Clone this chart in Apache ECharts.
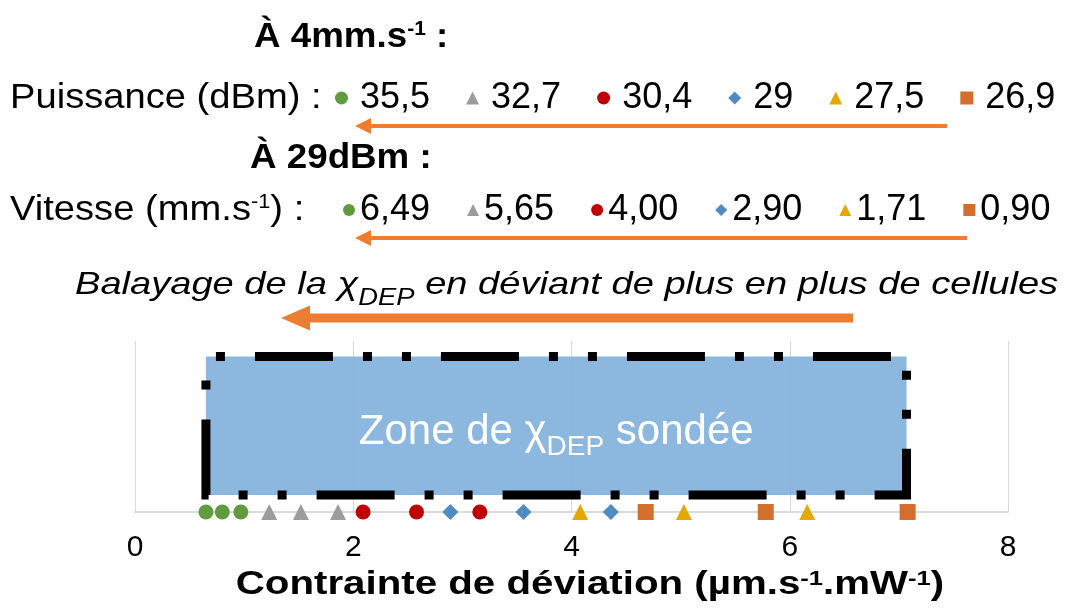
<!DOCTYPE html>
<html>
<head>
<meta charset="utf-8">
<script src="https://cdn.jsdelivr.net/npm/echarts@6/dist/echarts.min.js"></script>
<style>
  html, body { margin: 0; padding: 0; background: #fff; }
  #chart { width: 1070px; height: 610px; }
</style>
</head>
<body>
<div id="chart"></div>
<script>
// conditions: power at 4 mm/s, speed at 29 dBm (same colour/symbol = same row position)
var puissance = ['35,5', '32,7', '30,4', '29', '27,5', '26,9']
var vitesse = ['6,49', '5,65', '4,00', '2,90', '1,71', '0,90']
// deviation constraint (µm.s-1.mW-1), three measures per condition
var deviation = [
  [0.65, 0.80, 0.97],
  [1.23, 1.52, 1.86],
  [2.09, 2.58, 3.16],
  [2.89, 3.56, 4.36],
  [4.08, 5.03, 6.16],
  [4.68, 5.78, 7.08]
]
// x extent of the probed χDEP zone
var zone = [0.65, 7.07]
var xTicks = [0, 2, 4, 6, 8]

var symbols = ['circle', 'triangle', 'circle', 'diamond', 'triangle', 'rect']
var colors = ['#629b3f', '#9c9c9c', '#c00000', '#4f8bc3', '#e4a800', '#d46e2c']
var FF = '"Liberation Sans", Arial, sans-serif'
var ORANGE = '#ed7d31'

var chartDom = document.getElementById('chart')
var myChart = echarts.init(chartDom)

var names = puissance.map(function (p, i) { return p + '|' + vitesse[i] })

var series = deviation.map(function (pts, i) {
  return {
    name: names[i],
    type: 'scatter',
    symbol: symbols[i],
    symbolSize: symbols[i] === 'circle' ? 15 : 16,
    itemStyle: { color: colors[i], opacity: 1 },
    z: 4,
    data: pts.map(function (x) { return [x, 0] })
  }
})

series.push({
  name: 'zone',
  type: 'scatter',
  data: [],
  silent: true,
  markArea: {
    silent: true,
    itemStyle: {
      color: 'rgba(127,176,221,0.9)',
      borderColor: '#000',
      borderWidth: 9,
      borderType: [78, 30, 9, 30, 9, 30],
      borderDashOffset: 137
    },
    label: {
      show: true,
      position: 'inside',
      offset: [0, 7],
      color: '#fff',
      fontSize: 42,
      fontFamily: FF,
      lineHeight: 57,
      formatter: 'Zone de χ{sub|DEP} sondée',
      rich: {
        sub: { fontSize: 28, fontFamily: FF, color: '#fff', verticalAlign: 'bottom' }
      }
    },
    data: [[{ coord: [zone[0], 0.91] }, { coord: [zone[1], 0.1] }]]
  }
})

function arrow (xStart, xTip, y, w, headLen, headHalf) {
  return {
    type: 'group',
    children: [
      { type: 'line', shape: { x1: xTip + headLen - 1, y1: y, x2: xStart, y2: y }, style: { stroke: ORANGE, lineWidth: w } },
      { type: 'polygon', shape: { points: [[xTip, y], [xTip + headLen, y - headHalf], [xTip + headLen, y + headHalf]] }, style: { fill: ORANGE } }
    ]
  }
}

function label (x, y, text, size, opts) {
  opts = opts || {}
  var weight = opts.bold ? 'bold' : 'normal'
  var fstyle = opts.italic ? 'italic' : 'normal'
  return {
    type: 'text',
    x: x,
    y: y,
    scaleX: opts.scaleX || 1,
    style: {
      text: text,
      fill: '#000',
      fontSize: size,
      fontWeight: weight,
      fontStyle: fstyle,
      fontFamily: FF,
      align: opts.align || 'left',
      verticalAlign: 'middle',
      lineHeight: opts.lineHeight || size,
      rich: {
        sup: { fontSize: opts.supSize || 20, fontWeight: weight, fontStyle: fstyle, fontFamily: FF, fill: '#000', verticalAlign: 'top' },
        sub: { fontSize: opts.subSize || 22, fontWeight: weight, fontStyle: fstyle, fontFamily: FF, fill: '#000', verticalAlign: 'bottom' }
      }
    }
  }
}

var option = {
  animation: false,
  backgroundColor: '#fff',
  grid: { left: 135, right: 62, top: 341, bottom: 98, outerBoundsMode: 'none' },
  legend: [
    {
      data: names,
      left: 335,
      top: 80,
      padding: 0,
      itemWidth: 13,
      itemHeight: 13,
      itemGap: 36,
      selectedMode: false,
      textStyle: { fontSize: 36, fontFamily: FF, color: '#000', padding: [0, 0, 0, 7] },
      formatter: function (name) { return name.split('|')[0] }
    },
    {
      data: names,
      left: 343,
      top: 192,
      padding: 0,
      itemWidth: 12,
      itemHeight: 12,
      itemGap: 37,
      selectedMode: false,
      textStyle: { fontSize: 36, fontFamily: FF, color: '#000' },
      formatter: function (name) { return name.split('|')[1] }
    }
  ],
  xAxis: {
    type: 'value',
    min: xTicks[0],
    max: xTicks[xTicks.length - 1],
    interval: xTicks[1] - xTicks[0],
    axisLine: { show: true, lineStyle: { color: '#d0d0d0', width: 1.5 } },
    axisTick: { show: false },
    splitLine: { show: true, lineStyle: { color: '#d9d9d9', width: 1 } },
    axisLabel: { fontSize: 30, fontFamily: FF, color: '#000', margin: 21 }
  },
  yAxis: { type: 'value', min: 0, max: 1, show: false },
  graphic: [
    label(254, 37, 'À 4mm.s{sup|-1} :', 35, { bold: true, scaleX: 1.05, lineHeight: 35 }),
    label(10, 98, 'Puissance (dBm) :', 35, { scaleX: 1.09 }),
    arrow(947, 355, 126, 4, 16, 8),
    label(250, 158, 'À 29dBm :', 35, { bold: true, scaleX: 1.05 }),
    label(10, 210, 'Vitesse (mm.s{sup|-1}) :', 35, { scaleX: 1.09, lineHeight: 36 }),
    arrow(967, 355, 238, 4, 16, 8),
    label(75, 285, 'Balayage de la χ{sub|DEP} en déviant de plus en plus de cellules', 32, { italic: true, scaleX: 1.19, lineHeight: 50, subSize: 23 }),
    arrow(853, 281, 318, 9, 29, 12.5),
    label(590, 585, 'Contrainte de déviation (µm.s{sup|-1}.mW{sup|-1})', 33, { bold: true, align: 'center', scaleX: 1.22, lineHeight: 33, supSize: 21 })
  ],
  series: series
}

option && myChart.setOption(option)
</script>
</body>
</html>
